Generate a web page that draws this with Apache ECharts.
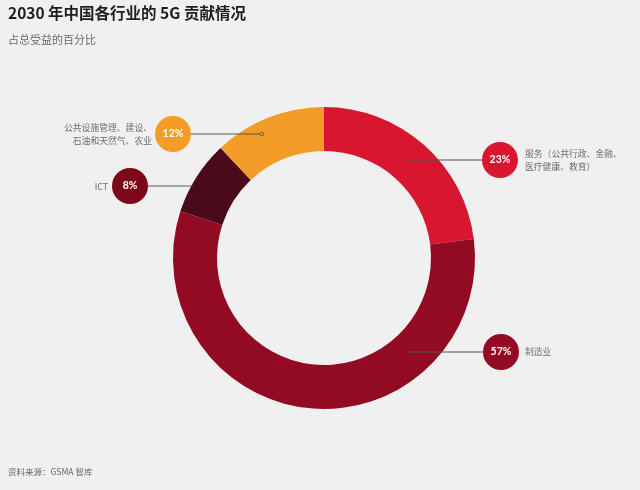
<!DOCTYPE html>
<html>
<head>
<meta charset="utf-8">
<script src="https://cdn.jsdelivr.net/npm/echarts@6/dist/echarts.min.js"></script>
<style>
html,body{margin:0;padding:0;background:#f0f0f0;}
#chart{width:640px;height:490px;}
</style>
</head>
<body>
<div id="chart"></div>
<script>
// ---- data ----
const categories = ['服务（公共行政、金融、医疗健康、教育）', '制造业', 'ICT', '公共设施管理、建设、石油和天然气、农业'];
const nameLabels = ['服务（公共行政、金融、\n医疗健康、教育）', '制造业', 'ICT', '公共设施管理、建设、\n石油和天然气、农业'];
const shares = [23, 57, 8, 12];

// ---- style / layout ----
const segColors = ['#d8162f', '#920b22', '#4a0a19', '#f39c27'];
const bubbleColors = ['#d8162f', '#920b22', '#7c0718', '#f39c27'];
const CX = 324, CY = 258;
const BUBBLE_R = 18;
const bubblePos = [[500, 160], [501, 352], [130, 186], [173, 134]];
const lineStartX = [407, 407, 193, 262];
const namePos = [[525, 160, 'left'], [525, 352, 'left'], [108, 187, 'right'], [152, 134, 'right']];

const FONT = '"Noto Sans CJK SC", "Noto Sans", sans-serif';

const chart = echarts.init(document.getElementById('chart'), null, {renderer: 'canvas'});

const rich = {};
bubbleColors.forEach((c, i) => {
  rich['v' + i] = {
    width: BUBBLE_R * 2, height: BUBBLE_R * 2, lineHeight: BUBBLE_R * 2,
    borderRadius: BUBBLE_R, backgroundColor: c, color: '#fff',
    fontSize: 10.5, fontWeight: 'bold', align: 'center', fontFamily: 'Lato, ' + FONT
  };
});

const data = categories.map((n, i) => ({name: n, value: shares[i], itemStyle: {color: segColors[i]}}));

chart.setOption({
  backgroundColor: '#f0f0f0',
  animation: false,
  title: [
    {text: '2030 年中国各行业的 5G 贡献情况', left: 3, top: 0,
     textStyle: {fontSize: 15.5, fontWeight: 'bold', color: '#1e1e1e', fontFamily: FONT}},
    {text: '占总受益的百分比', left: 3, top: 29,
     textStyle: {fontSize: 11, fontWeight: 'normal', color: '#6a6a6a', fontFamily: FONT}},
    {text: '资料来源：GSMA 智库', left: 3, top: 463,
     textStyle: {fontSize: 8.5, fontWeight: 'normal', color: '#666', fontFamily: FONT}}
  ],
  series: [
    {
      // coloured ring + category names
      type: 'pie',
      center: [CX, CY],
      radius: [107, 151],
      startAngle: 90,
      clockwise: true,
      silent: true,
      z: 2,
      data: data,
      label: {
        show: true,
        position: 'outside',
        formatter: p => nameLabels[p.dataIndex],
        fontSize: 8.8,
        lineHeight: 12.5,
        color: '#6e6e6e',
        fontFamily: FONT
      },
      labelLine: {show: false},
      labelLayout: function (params) {
        const [x, y, al] = namePos[params.dataIndex];
        return {x: x, y: y, align: al, verticalAlign: 'middle'};
      }
    },
    {
      // transparent overlay carrying the percentage bubbles and leader lines (drawn above ring)
      type: 'pie',
      center: [CX, CY],
      radius: [107, 151],
      startAngle: 90,
      clockwise: true,
      silent: true,
      z: 5,
      data: data.map(d => ({name: d.name, value: d.value, itemStyle: {color: 'rgba(0,0,0,0)'}})),
      label: {
        show: true,
        position: 'outside',
        formatter: p => '{v' + p.dataIndex + '|' + p.value + '%}',
        rich: rich
      },
      labelLine: {show: true, lineStyle: {color: '#555', width: 1}},
      labelLayout: function (params) {
        const i = params.dataIndex;
        const [bx, by] = bubblePos[i];
        const sx = lineStartX[i];
        const ex = sx < bx ? bx - BUBBLE_R : bx + BUBBLE_R;
        return {
          x: bx, y: by, align: 'center', verticalAlign: 'middle',
          labelLinePoints: [[sx, by], [(sx + ex) / 2, by], [ex, by]]
        };
      }
    }
  ],
  graphic: [{
    type: 'circle', shape: {cx: lineStartX[3], cy: bubblePos[3][1], r: 1.8},
    style: {fill: '#f39c27', stroke: '#555', lineWidth: 0.8}, z: 100
  }]
});
</script>
</body>
</html>
